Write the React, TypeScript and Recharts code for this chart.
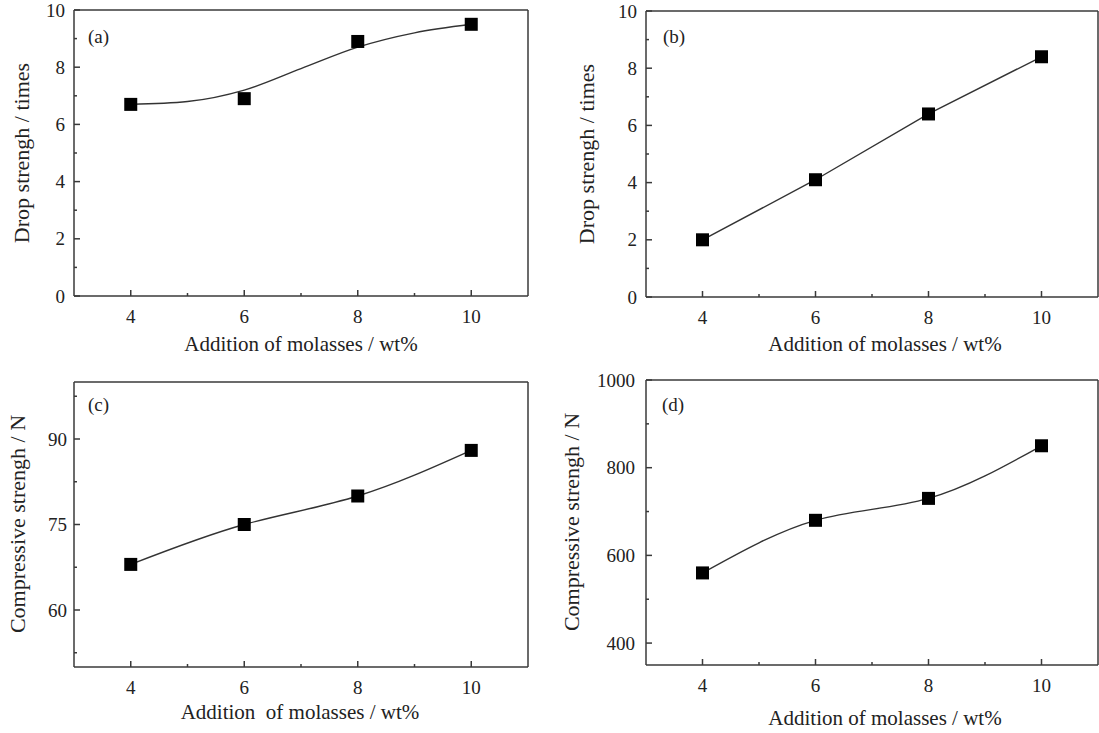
import { LineChart, Line, XAxis, YAxis, ReferenceLine } from "recharts";

// molasses addition, wt%
const additions = [4, 6, 8, 10];
const xTicks = [4, 5, 6, 7, 8, 9, 10];

const dropStrengthA = [6.7, 6.9, 8.9, 9.5];
const fitAdditionsA = [4, 5, 6, 7, 8, 9, 10];
const fitDropA = [6.7, 6.8, 7.2, 7.95, 8.7, 9.2, 9.5];

// (b) drop strength
const dropStrengthB = [2.0, 4.1, 6.4, 8.4];

// (c) and (d) compressive strength
const compressiveC = [68, 75, 80, 88];
const compressiveD = [560, 680, 730, 850];

const dropTicks = [0, 1, 2, 3, 4, 5, 6, 7, 8, 9, 10];
const dropLabels = [0, 2, 4, 6, 8, 10];
const compTicksC = [52.5, 60, 67.5, 75, 82.5, 90, 97.5];
const compLabelsC = [60, 75, 90];
const compTicksD = [400, 500, 600, 700, 800, 900, 1000];
const compLabelsD = [400, 600, 800, 1000];

const FONT = '"Liberation Serif", "Times New Roman", serif';
const INK = "#222";
const AXIS = "#3a3a3a";

const toPoints = (xs: number[], ys: number[]) => xs.map((x, i) => ({ x, y: ys[i] }));

function Square(props: any) {
  const { cx, cy } = props;
  if (cx == null || cy == null) return null;
  return <rect x={cx - 6.5} y={cy - 6.5} width={13} height={13} fill="#000" />;
}

function XTick(props: any) {
  const { x, y, payload } = props;
  const major = payload.value % 2 === 0;
  return (
    <g>
      <line x1={x} y1={y} x2={x} y2={y - (major ? 6 : 3)} stroke={AXIS} strokeWidth={1.5} />
      {major && (
        <text x={x} y={y + 27} textAnchor="middle" fontSize={19} fontFamily={FONT} fill={INK}>
          {payload.value}
        </text>
      )}
    </g>
  );
}

function makeYTick(labels: number[], gap: number) {
  return (props: any) => {
    const { x, y, payload } = props;
    const major = labels.includes(payload.value);
    return (
      <g>
        <line x1={x} y1={y} x2={x + (major ? 6 : 3)} y2={y} stroke={AXIS} strokeWidth={1.5} />
        {major && (
          <text x={x - gap} y={y + 6.5} textAnchor="end" fontSize={19} fontFamily={FONT} fill={INK}>
            {payload.value}
          </text>
        )}
      </g>
    );
  };
}

interface PanelProps {
  left: number;
  top: number;
  width: number;
  height: number;
  yDomain: [number, number];
  yTicks: number[];
  yLabels: number[];
  labelGap: number;
  points: { x: number; y: number }[];
  fit?: { x: number; y: number }[];
  curve: "linear" | "monotone" | "natural";
}

function Panel({ left, top, width, height, yDomain, yTicks, yLabels, labelGap, points, fit, curve }: PanelProps) {
  const ML = 72;
  const MB = 50;
  const MT = 14;
  const MR = 3;
  return (
    <div style={{ position: "absolute", left: left - ML, top: top - MT }}>
      <LineChart
        width={width + ML + MR}
        height={height + MT + MB}
        margin={{ top: MT, right: MR, left: 0, bottom: 0 }}
        style={{ overflow: "visible" }}
      >
        <XAxis
          type="number"
          dataKey="x"
          domain={[3, 11]}
          ticks={xTicks}
          interval={0}
          height={MB}
          tickSize={0}
          tickMargin={0}
          tickLine={false}
          axisLine={{ stroke: AXIS, strokeWidth: 1.5 }}
          tick={(p: any) => <XTick {...p} />}
          allowDataOverflow
        />
        <YAxis
          type="number"
          dataKey="y"
          domain={yDomain}
          ticks={yTicks}
          interval={0}
          width={ML}
          tickSize={0}
          tickMargin={0}
          tickLine={false}
          axisLine={{ stroke: AXIS, strokeWidth: 1.5 }}
          tick={makeYTick(yLabels, labelGap)}
          allowDataOverflow
        />
        <ReferenceLine y={yDomain[1]} stroke={AXIS} strokeWidth={1.5} />
        <ReferenceLine x={11} stroke={AXIS} strokeWidth={1.5} />
        {fit && (
          <Line
            data={fit}
            dataKey="y"
            type="monotone"
            stroke="#333"
            strokeWidth={1.4}
            dot={false}
            activeDot={false}
            isAnimationActive={false}
          />
        )}
        <Line
          data={points}
          dataKey="y"
          type={curve}
          stroke={fit ? "none" : "#333"}
          strokeWidth={1.4}
          dot={(p: any) => <Square key={p.index} {...p} />}
          activeDot={false}
          isAnimationActive={false}
        />
      </LineChart>
    </div>
  );
}

const textStyle = { position: "absolute" as const, fontFamily: FONT, color: INK, lineHeight: 1, whiteSpace: "pre" as const };

function XTitle({ cx, cy, text }: { cx: number; cy: number; text: string }) {
  return (
    <div style={{ ...textStyle, left: cx - 200, top: cy - 10.5, width: 400, textAlign: "center", fontSize: 21 }}>
      {text}
    </div>
  );
}

function YTitle({ cx, cy, text }: { cx: number; cy: number; text: string }) {
  return (
    <div
      style={{
        ...textStyle,
        left: cx,
        top: cy,
        fontSize: 22,
        transform: "translate(-50%, -50%) rotate(-90deg)",
      }}
    >
      {text}
    </div>
  );
}

function Tag({ x, cy, text }: { x: number; cy: number; text: string }) {
  return <div style={{ ...textStyle, left: x, top: cy - 9.5, fontSize: 19 }}>{text}</div>;
}

export default function App() {
  return (
    <div style={{ position: "absolute", left: 0, top: 0, width: 1099, height: 733, background: "#fff", overflow: "hidden" }}>
      <Panel
        left={74}
        top={10}
        width={454}
        height={286}
        yDomain={[0, 10]}
        yTicks={dropTicks}
        yLabels={dropLabels}
        labelGap={9}
        points={toPoints(additions, dropStrengthA)}
        fit={toPoints(fitAdditionsA, fitDropA)}
        curve="monotone"
      />
      <Panel
        left={646}
        top={11}
        width={452}
        height={286}
        yDomain={[0, 10]}
        yTicks={dropTicks}
        yLabels={dropLabels}
        labelGap={9}
        points={toPoints(additions, dropStrengthB)}
        curve="linear"
      />
      <Panel
        left={74}
        top={382}
        width={454}
        height={285}
        yDomain={[50, 100]}
        yTicks={compTicksC}
        yLabels={compLabelsC}
        labelGap={7}
        points={toPoints(additions, compressiveC)}
        curve="natural"
      />
      <Panel
        left={646}
        top={380}
        width={452}
        height={285}
        yDomain={[350, 1000]}
        yTicks={compTicksD}
        yLabels={compLabelsD}
        labelGap={11}
        points={toPoints(additions, compressiveD)}
        curve="natural"
      />

      <Tag x={88} cy={36} text="(a)" />
      <Tag x={663} cy={36} text="(b)" />
      <Tag x={88} cy={404} text="(c)" />
      <Tag x={662} cy={404} text="(d)" />

      <XTitle cx={301} cy={344} text="Addition of molasses / wt%" />
      <XTitle cx={885} cy={344} text="Addition of molasses / wt%" />
      <XTitle cx={300} cy={712} text="Addition  of molasses / wt%" />
      <XTitle cx={885} cy={718} text="Addition of molasses / wt%" />

      <YTitle cx={22} cy={153} text="Drop strengh / times" />
      <YTitle cx={587} cy={154} text="Drop strengh / times" />
      <YTitle cx={18} cy={524} text="Compressive strengh / N" />
      <YTitle cx={572} cy={522} text="Compressive strengh / N" />
    </div>
  );
}
